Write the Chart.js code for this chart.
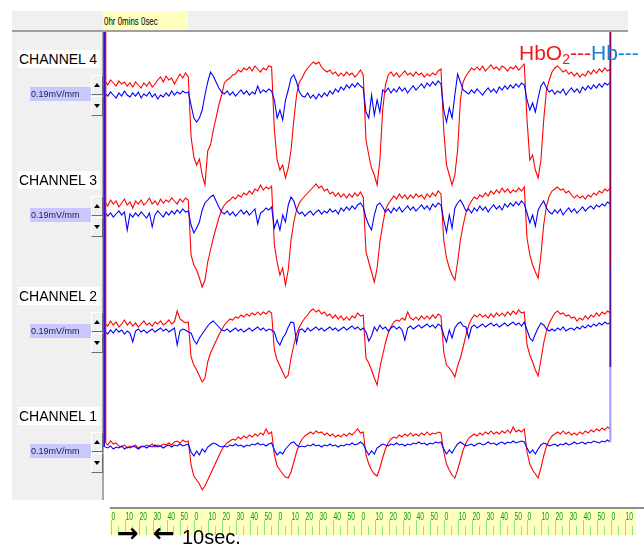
<!DOCTYPE html>
<html>
<head>
<meta charset="utf-8">
<title>NIRS - 4 canales</title>
<script src="https://cdn.jsdelivr.net/npm/chart.js@4.4.1/dist/chart.umd.min.js"></script>
<style>
  html, body { margin: 0; padding: 0; background: #ffffff; }
  #page { position: relative; width: 644px; height: 546px; overflow: hidden;
          font-family: "Liberation Sans", Arial, sans-serif; }
  #sidePanel { position: absolute; left: 12px; top: 11px; width: 91px; height: 489px; background: #f0f0f0; }
  #topBar { position: absolute; left: 12px; top: 11px; width: 616px; height: 19px; background: #f0f0f0;
            border-bottom: 2px solid #a0a0a0; }
  #plotEdge { position: absolute; left: 102px; top: 31px; width: 2px; height: 469px; background: #a8a8a8; }
  #clock { position: absolute; left: 103px; top: 11px; width: 85px; height: 19px; background: #ffffc0;
           overflow: hidden; white-space: nowrap; color: #000; }
  #clock span { display: inline-block; font-size: 11px; line-height: 13px; margin-left: 1px; margin-top: 1px;
                transform: scaleX(0.72); transform-origin: 0 0; }
  #chart { position: absolute; left: 0; top: 0; }
  .ch-name { position: absolute; left: 18px; width: 81px; height: 18px; background: #ffffff;
             font-size: 14px; line-height: 18px; padding-left: 1px; color: #000; }
  .ch-gain { position: absolute; left: 30px; width: 60px; height: 14px; background: #c8c8ff;
             font-size: 9px; line-height: 14px; padding-left: 1px; color: #20204a; }
  .ch-spin { position: absolute; left: 91px; width: 10px; height: 18px; background: #f0f0f0;
             border: 1px solid; border-color: #ffffff #6e6e6e #6e6e6e #ffffff; }
  .ch-spin i { position: absolute; left: 2px; top: 7px; width: 0; height: 0;
               border-left: 3px solid transparent; border-right: 3px solid transparent; }
  .ch-spin.up i { border-bottom: 4px solid #000; }
  .ch-spin.down i { border-top: 4px solid #000; }
  #legend { position: absolute; left: 519px; top: 40px; font-size: 21px; line-height: 26px; white-space: nowrap; }
  #legend .oxy { color: #f01818; }
  #legend .deoxy { color: #1a7ed4; }
  #legend sub { font-size: 14px; vertical-align: -4px; line-height: 0; }
  .note { position: absolute; white-space: nowrap; color: #000; }
  .note.arrow { font-family: "DejaVu Sans", sans-serif; font-weight: bold; font-size: 26px; line-height: 26px; top: 520px; }
  .note.txt { left: 182px; top: 526px; font-size: 20px; line-height: 22px; }
</style>
</head>
<body>
<div id="page">
  <div id="sidePanel"></div>
  <div id="topBar"></div>
  <div id="plotEdge"></div>
  <div id="clock"><span>0hr 0mins 0sec</span></div>
  <canvas id="chart" width="644" height="546"></canvas>
  <div id="channelPanel"></div>
  <div id="legend"><span class="oxy">HbO<sub>2</sub>---</span><span class="deoxy">Hb---</span></div>
  <div class="note arrow" style="left:117px">&#x2192;</div>
  <div class="note arrow" style="left:153px">&#x2190;</div>
  <div class="note txt">10sec.</div>
</div>

<script>
// Tiempo de muestreo (s), una muestra cada 2 segundos
const timeSec = [];
for (let s = 0; s <= 364; s += 2) timeSec.push(s);

const channelNames = ["CHANNEL 4", "CHANNEL 3", "CHANNEL 2", "CHANNEL 1"];
const gainLabels = ["0.19mV/mm", "0.19mV/mm", "0.19mV/mm", "0.19mV/mm"];

// Senal por canal (mm de desviacion respecto a la linea base del canal)
const hbo2Ch4 = [
  -2, -6, -1, -4, -7, -2, -5, -3, -7, -4, -8, -3, -6, -9, -4, -7, -3, -8, -5, -1, 2, -3, 3, -1, 1, -5, 0, 5, 1, 6, 2,
  -58, -78, -86, -80, -96, -106, -72, -66, -51, -39, -26, -16, -4, -1, 1, 4, 5, 9, 7, 11, 9, 12, 8, 13, 10, 7, 11, 9, 13, 12,
  -51, -81, -91, -86, -99, -89, -71, -41, -16, -3, 1, 7, 11, 14, 17, 15, 17, 12, 9, 7, 9, 5, 7, 3, 6, 3, 7, 4, 6, 2, 5, 9, 4,
  -61, -76, -89, -96, -106, -81, -31, -6, 4, 7, 3, 6, 2, 5, 8, 4, 6, 3, 7, 4, 6, 2, 5, 3, 6, 4, 8, 10,
  -51, -86, -96, -106, -96, -71, -21, -3, 3, 7, 11, 9, 12, 9, 13, 8, 11, 14, 10, 12, 9, 13, 11, 8, 12, 10, 13, 9, 12, 15,
  -41, -81, -76, -91, -99, -81, -41, -11, -1, 7, 11, 13, 10, 7, 9, 5, 7, 3, 6, 2, 5, 3, 8, 5, 9, 6, 10, 7, 11, 8, 10
];
const hbCh4 = [
  -14, -17, -13, -16, -19, -14, -17, -12, -16, -18, -14, -17, -13, -19, -15, -17, -13, -18, -15, -20, -16, -18, -14, -17, -12, -16, -13, -15, -12, -14, -13,
  -26, -39, -43, -39, -31, -16, -3, 7, 3, -3, -9, -13, -15, -12, -16, -13, -17, -14, -11, -15, -12, -16, -13, -15, -7, -14, -11, -13, -10, -12,
  -21, -39, -31, -41, -21, -11, 1, 4, -3, -13, -17, -18, -14, -19, -16, -20, -15, -18, -14, -17, -12, -15, -10, -13, -8, -11, -6, -9, -5, -8, -4, -7, -9,
  -33, -39, -16, -36, -21, -33, -11, -13, -9, -14, -10, -13, -8, -12, -9, -14, -10, -7, -11, -8, -5, -9, -4, -7, -3, -6, -2, -5,
  -31, -43, -29, -39, -16, 5, -3, -11, -13, -15, -11, -14, -10, -13, -16, -12, -9, -13, -10, -14, -8, -11, -7, -10, -6, -9, -5, -8, -4, -6,
  -21, -31, -24, -33, -19, -7, -3, -9, -13, -11, -15, -12, -14, -10, -16, -12, -9, -13, -10, -14, -8, -11, -7, -10, -6, -9, -5, -8, -4, -6, -3
];
const hbo2Ch3 = [
  -6, -10, -4, -8, -5, -11, -7, -3, -9, -6, -12, -5, -8, -4, -9, -6, -2, -8, -5, -9, -3, -7, -4, -6, -2, -5, -8, -3, -6, -2, -4,
  -59, -69, -74, -82, -91, -84, -66, -54, -42, -32, -22, -14, -9, -6, -4, -1, -3, 1, -1, 3, 1, 5, 2, 7, 5, 11, 6, 9, 7, 10,
  -49, -66, -79, -72, -89, -74, -44, -26, -14, -7, -3, 0, 3, 6, 9, 12, 8, 10, 5, 7, 2, 4, 0, 3, -1, 2, -2, 2, -1, 3, 0, 4, -1,
  -56, -66, -76, -86, -72, -46, -29, -14, -8, -4, 0, -3, 2, -2, 1, -3, 1, -2, 2, -1, 1, -3, 2, -1, 3, 0, 5, 2,
  -44, -62, -72, -79, -84, -66, -44, -29, -17, -10, -5, -1, -3, 1, -1, 3, 0, 5, 2, 6, 3, 8, 4, 7, 3, 6, 4, 8, 5, 9,
  -42, -59, -69, -76, -82, -59, -29, -10, 0, 5, 7, 9, 6, 7, 3, 5, 1, -2, 1, -2, 0, -3, 1, -1, 3, 1, 5, 3, 7, 5, 8
];
const hbCh3 = [
  -16, -20, -17, -21, -18, -15, -19, -16, -34, -18, -21, -17, -20, -16, -19, -22, -17, -31, -19, -15, -18, -21, -16, -19, -15, -18, -14, -17, -13, -16, -15,
  -29, -37, -32, -26, -14, -7, -4, -1, 1, -5, -11, -16, -18, -15, -19, -16, -20, -17, -14, -18, -15, -19, -16, -13, -28, -17, -15, -12, -14, -11,
  -32, -24, -34, -19, -26, -9, -1, -5, -14, -18, -16, -20, -17, -15, -19, -16, -14, -18, -15, -17, -13, -16, -14, -18, -12, -15, -11, -14, -10, -13, -9, -7, -11,
  -22, -29, -34, -19, -9, -7, -11, -16, -13, -17, -12, -15, -11, -16, -13, -10, -14, -11, -15, -12, -9, -13, -10, -14, -8, -11, -7, -9,
  -24, -36, -19, -32, -12, -7, -4, -9, -15, -13, -17, -12, -15, -10, -14, -11, -16, -12, -9, -13, -10, -14, -8, -11, -7, -10, -6, -9, -5, -8,
  -17, -27, -19, -30, -14, -9, -5, -12, -16, -18, -14, -17, -13, -19, -15, -12, -16, -13, -17, -14, -11, -15, -12, -10, -13, -9, -11, -8, -10, -6, -8
];
const hbo2Ch2 = [
  -10, -13, -8, -12, -9, -14, -11, -7, -12, -9, -13, -10, -14, -11, -8, -12, -10, -13, -9, -11, -8, -12, -10, -7, -11, -9, 2, -6, -8, -10, -9,
  -44, -52, -57, -63, -69, -65, -49, -40, -34, -28, -22, -17, -12, -9, -6, -7, -4, -5, -2, -4, -1, -3, 0, -2, 1, -2, 1, -1, 2, 0,
  -37, -47, -53, -59, -65, -62, -45, -32, -21, -14, -9, -5, -2, 2, 4, 1, 3, -1, 1, -3, -1, -5, -2, -6, -3, -7, -4, -7, -3, -5, 0, -3, -2,
  -45, -50, -57, -65, -72, -55, -42, -30, -20, -14, -9, -7, -8, -5, -7, 1, -5, -7, -4, -7, -3, -6, -3, -6, -2, -5, -1, -3,
  -39, -52, -55, -59, -64, -53, -45, -34, -22, -12, -6, -2, -4, -1, -4, -2, -5, -1, -4, 0, -3, 0, -3, 1, -2, 2, -1, 3, 0, 1,
  -32, -42, -49, -57, -63, -47, -30, -18, -10, -5, 0, 2, -1, 0, -3, -2, -5, -4, -8, -5, -7, -3, -6, -2, -4, 0, -3, 1, -1, 2, 0
];
const hbCh2 = [
  -18, -21, -17, -20, -16, -19, -17, -21, -18, -20, -29, -18, -16, -19, -17, -20, -18, -16, -19, -17, -15, -18, -16, -19, -17, -15, -32, -18, -16, -17, -19,
  -20, -27, -31, -25, -21, -17, -13, -10, -8, -11, -14, -17, -18, -16, -19, -17, -15, -18, -16, -19, -17, -15, -18, -16, -14, -17, -15, -18, -16, -17,
  -19, -28, -32, -25, -21, -14, -9, -10, -30, -17, -16, -19, -15, -18, -16, -14, -17, -15, -18, -16, -14, -17, -15, -18, -16, -14, -17, -15, -13, -16, -14, -17, -15,
  -19, -28, -23, -14, -18, -12, -16, -14, -18, -15, -13, -16, -14, -17, -27, -15, -13, -16, -14, -12, -15, -13, -11, -14, -12, -15, -11, -13,
  -22, -29, -17, -25, -15, -11, -9, -13, -14, -25, -14, -12, -15, -13, -11, -14, -12, -10, -13, -11, -14, -12, -10, -13, -11, -9, -12, -10, -13, -9,
  -17, -25, -28, -21, -15, -10, -12, -16, -18, -16, -18, -15, -17, -14, -18, -16, -15, -17, -14, -16, -13, -15, -12, -14, -11, -13, -10, -12, -9, -11, -10
];
const hbo2Ch1 = [
  -12, -15, -11, -14, -13, -16, -17, -15, -18, -16, -17, -15, -18, -16, -17, -15, -16, -14, -17, -15, -16, -14, -15, -13, -15, -12, -11, -13, -10, -12, -11,
  -35, -46, -50, -54, -60, -56, -50, -44, -38, -32, -26, -20, -16, -13, -11, -9, -10, -7, -9, -6, -8, -5, -7, -4, -6, -3, -5, 1, -4, -2,
  -25, -36, -40, -44, -47, -48, -42, -32, -22, -14, -9, -6, -4, -2, -4, -1, -3, -2, -5, -3, -6, -4, -7, -5, -7, -4, -6, -3, -5, -2, 1, -3, -2,
  -25, -34, -40, -44, -46, -38, -28, -19, -13, -9, -7, -8, -5, -7, -4, -6, -3, -6, -4, -6, -3, -5, -2, -5, -3, -4, -2, -3,
  -22, -34, -40, -45, -48, -40, -30, -20, -13, -8, -6, -4, -6, -3, -5, -2, -4, -1, -4, -2, -4, -1, -3, 0, -3, 3, -2, 0, -2, 1,
  -22, -34, -40, -44, -48, -38, -26, -16, -10, -6, -4, -2, -4, -1, -4, -2, -5, -3, -5, -2, -4, -1, -3, 0, -2, 1, -1, 2, 0, 3, 1
];
const hbCh1 = [
  -17, -18, -16, -19, -17, -18, -16, -19, -17, -18, -16, -17, -19, -17, -16, -18, -16, -17, -15, -17, -16, -18, -16, -15, -17, -15, -16, -14, -16, -15, -14,
  -22, -26, -21, -25, -19, -22, -17, -15, -13, -14, -16, -17, -16, -17, -15, -16, -14, -16, -15, -17, -15, -16, -14, -15, -13, -15, -14, -16, -14, -13,
  -20, -25, -22, -24, -19, -16, -13, -12, -15, -17, -16, -17, -15, -16, -14, -16, -15, -17, -15, -16, -14, -16, -15, -17, -15, -16, -14, -15, -13, -15, -14, -12, -14,
  -20, -25, -21, -24, -18, -16, -14, -15, -16, -14, -15, -13, -15, -14, -16, -14, -15, -13, -14, -12, -14, -13, -15, -13, -14, -12, -13, -12,
  -19, -24, -20, -23, -18, -14, -12, -14, -16, -15, -14, -16, -14, -13, -15, -14, -12, -14, -13, -15, -13, -12, -14, -12, -13, -11, -13, -12, -11, -12,
  -18, -23, -20, -24, -19, -15, -13, -14, -16, -15, -14, -16, -14, -15, -13, -15, -14, -12, -14, -13, -12, -14, -12, -13, -11, -12, -13, -11, -12, -10, -12
];

// Panel izquierdo: nombre del canal, ganancia y botones
function createChannelLabel(panel, name, gain, top) {
  const title = document.createElement("div");
  title.classList.add("ch-name");
  title.textContent = name;
  title.style.top = top + "px";
  const gainBox = document.createElement("div");
  gainBox.classList.add("ch-gain");
  gainBox.textContent = gain;
  gainBox.style.top = top + 37 + "px";
  const up = document.createElement("div");
  up.classList.add("ch-spin", "up");
  up.style.top = top + 25 + "px";
  up.appendChild(document.createElement("i"));
  const down = document.createElement("div");
  down.classList.add("ch-spin", "down");
  down.style.top = top + 46 + "px";
  down.appendChild(document.createElement("i"));
  panel.appendChild(title);
  panel.appendChild(gainBox);
  panel.appendChild(up);
  panel.appendChild(down);
}

const panel = document.getElementById("channelPanel");
const labelTops = [50, 171, 287, 407];
channelNames.forEach((name, index) => {
  createChannelLabel(panel, name, gainLabels[index], labelTops[index]);
});

function toPoints(values) {
  return values.map((v, i) => ({ x: timeSec[i], y: v }));
}

function traceDataset(label, values, axis, color) {
  return {
    label: label,
    data: toPoints(values),
    yAxisID: axis,
    borderColor: color,
    borderWidth: 1.1,
    pointRadius: 0,
    tension: 0,
    fill: false,
    // las trazas pueden invadir la franja del canal vecino
    clip: { left: 0, right: 0, top: 120, bottom: 120 },
  };
}

function channelAxis() {
  return {
    type: "linear",
    position: "left",
    stack: "channels",
    stackWeight: 1,
    min: -70,
    max: 47,
    display: false,
  };
}

function drawLine(ctx, x0, y0, x1, y1, color) {
  ctx.strokeStyle = color;
  ctx.beginPath();
  ctx.moveTo(x0, y0);
  ctx.lineTo(x1, y1);
  ctx.stroke();
}

// Marcas de inicio y cursor final, y la regla de tiempo inferior
const recorderFrame = {
  id: "recorderFrame",
  afterDatasetsDraw(chart) {
    const ctx = chart.ctx;
    const area = chart.chartArea;
    const xs = chart.scales.x;
    const yLow = chart.scales.ch1;
    const last = timeSec.length - 1;
    const xStart = xs.getPixelForValue(timeSec[0]);
    const xEnd = xs.getPixelForValue(timeSec[last]);
    ctx.save();
    ctx.lineWidth = 1.5;
    drawLine(ctx, xStart - 0.8, area.top, xStart - 0.8, yLow.getPixelForValue(hbCh1[0]), "#0000ff");
    drawLine(ctx, xStart + 0.6, area.top, xStart + 0.6, yLow.getPixelForValue(hbo2Ch1[0]), "#ff0000");
    ctx.lineWidth = 2;
    drawLine(ctx, xEnd, area.top, xEnd, chart.scales.ch2.top, "#8a0a5c");
    drawLine(ctx, xEnd, chart.scales.ch2.top, xEnd, yLow.top - 16, "#5a16a6");
    drawLine(ctx, xEnd, yLow.top - 16, xEnd, yLow.getPixelForValue(hbCh1[last]), "#9c9cff");
    ctx.restore();
  },
  afterDraw(chart) {
    const ctx = chart.ctx;
    const xs = chart.scales.x;
    const rulerShift = 6;
    const top = chart.chartArea.bottom + 7;
    const left = xs.left + 5;
    const right = 636;
    ctx.save();
    ctx.fillStyle = "#ffffc0";
    ctx.fillRect(left, top + 2, right - left, 26);
    ctx.fillStyle = "#8c8c8c";
    ctx.fillRect(left, top, chart.width - left, 2);
    ctx.font = '11px "Liberation Sans", Arial, sans-serif';
    ctx.textBaseline = "top";
    ctx.lineWidth = 1;
    for (let t = 0; xs.getPixelForValue(t) + rulerShift < right; t += 5) {
      const px = Math.round(xs.getPixelForValue(t) + rulerShift) + 0.5;
      if (t % 10 === 0) {
        drawLine(ctx, px, top + 13, px, top + 28, "#86e886");
        ctx.fillStyle = "#0c9c0c";
        ctx.save();
        ctx.translate(px, top + 4);
        ctx.scale(0.62, 1);
        ctx.fillText(String(t % 60), 0, 0);
        ctx.restore();
      } else {
        drawLine(ctx, px, top + 19, px, top + 28, "#86e886");
      }
    }
    ctx.restore();
  },
};

const datasets = [
  traceDataset("Hb ch4", hbCh4, "ch4", "#0000ff"),
  traceDataset("Hb ch3", hbCh3, "ch3", "#0000ff"),
  traceDataset("Hb ch2", hbCh2, "ch2", "#0000ff"),
  traceDataset("Hb ch1", hbCh1, "ch1", "#0000ff"),
  traceDataset("HbO2 ch4", hbo2Ch4, "ch4", "#ff0000"),
  traceDataset("HbO2 ch3", hbo2Ch3, "ch3", "#ff0000"),
  traceDataset("HbO2 ch2", hbo2Ch2, "ch2", "#ff0000"),
  traceDataset("HbO2 ch1", hbo2Ch1, "ch1", "#ff0000"),
];

const ctx = document.getElementById("chart");
const recorder = new Chart(ctx, {
  type: "line",
  data: { datasets: datasets },
  options: {
    responsive: false,
    animation: false,
    layout: { padding: { left: 105, right: 17, top: 32, bottom: 46 } },
    plugins: { legend: { display: false }, tooltip: { enabled: false } },
    scales: {
      x: { type: "linear", min: 0, max: 376, display: false },
      ch1: channelAxis(),
      ch2: channelAxis(),
      ch3: channelAxis(),
      ch4: channelAxis(),
    },
  },
  plugins: [recorderFrame],
});
</script>
</body>
</html>
